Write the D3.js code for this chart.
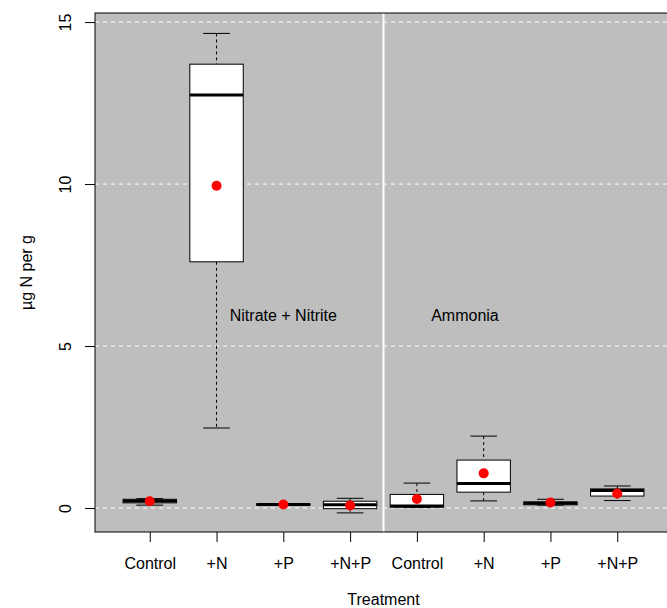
<!DOCTYPE html>
<html>
<head>
<meta charset="utf-8">
<script src="https://cdn.jsdelivr.net/npm/d3@7"></script>
<style>
  body { margin: 0; background: #fff; }
  text { font-family: "Liberation Sans", Arial, sans-serif; }
</style>
</head>
<body>
<svg></svg>
<script>
// boxplot summaries (positions 1..8)
const categories = ['Control', '+N', '+P', '+N+P', 'Control', '+N', '+P', '+N+P'];
const whiskerLow = [0.09, 2.47, 0.08, -0.15, 0.02, 0.22, 0.09, 0.23];
const q1 = [0.16, 7.6, 0.09, -0.02, 0.03, 0.49, 0.10, 0.37];
const medians = [0.22, 12.75, 0.11, 0.10, 0.06, 0.76, 0.15, 0.54];
const q3 = [0.27, 13.7, 0.13, 0.21, 0.42, 1.48, 0.19, 0.59];
const whiskerHigh = [0.29, 14.65, 0.14, 0.30, 0.77, 2.22, 0.27, 0.68];
const means = [0.21, 9.95, 0.11, 0.08, 0.28, 1.07, 0.17, 0.45];
const yTicks = [0, 5, 10, 15];
const groupLabels = [
  {label: 'Nitrate + Nitrite', x: 3.0, y: 6},
  {label: 'Ammonia', x: 5.72, y: 6},
];

const WIDTH = 667;
const HEIGHT = 608;
const FONT = 16;

const svg = d3.select('svg')
    .attr('width', WIDTH)
    .attr('height', HEIGHT);

const x = d3.scaleLinear().domain([0.18, 8.82]).range([95, 672]);
const y = d3.scaleLinear().domain([-0.74, 15.28]).range([532, 13]);

const boxes = categories.map((c, i) => ({
  pos: i + 1, lo: whiskerLow[i], q1: q1[i], med: medians[i],
  q3: q3[i], hi: whiskerHigh[i], mean: means[i],
}));

// grey plot region
svg.append('rect')
    .attr('x', x(0.18)).attr('y', y(15.28))
    .attr('width', x(8.82) - x(0.18)).attr('height', y(-0.74) - y(15.28))
    .attr('fill', '#bebebe');

// dashed white grid
svg.selectAll('line.grid')
    .data(yTicks)
  .enter().append('line')
    .attr('class', 'grid')
    .attr('x1', x(0.18)).attr('x2', x(8.82))
    .attr('y1', (d) => y(d)).attr('y2', (d) => y(d))
    .attr('stroke', '#fff')
    .attr('stroke-dasharray', '4,4');

// separator between the two groups
svg.append('line')
    .attr('x1', x(4.5)).attr('x2', x(4.5))
    .attr('y1', y(15.28)).attr('y2', y(-0.74))
    .attr('stroke', '#fff')
    .attr('stroke-width', 2);

const boxW = 0.8;
const g = svg.selectAll('g.box')
    .data(boxes)
  .enter().append('g')
    .attr('class', 'box');

// whiskers
g.append('line')
    .attr('x1', (d) => x(d.pos)).attr('x2', (d) => x(d.pos))
    .attr('y1', (d) => y(d.hi)).attr('y2', (d) => y(d.q3))
    .attr('stroke', '#000').attr('stroke-dasharray', '3,3');
g.append('line')
    .attr('x1', (d) => x(d.pos)).attr('x2', (d) => x(d.pos))
    .attr('y1', (d) => y(d.q1)).attr('y2', (d) => y(d.lo))
    .attr('stroke', '#000').attr('stroke-dasharray', '3,3');
// staples
['hi', 'lo'].forEach((k) => {
  g.append('line')
      .attr('x1', (d) => x(d.pos - boxW / 4)).attr('x2', (d) => x(d.pos + boxW / 4))
      .attr('y1', (d) => y(d[k])).attr('y2', (d) => y(d[k]))
      .attr('stroke', '#000');
});
// box
g.append('rect')
    .attr('x', (d) => x(d.pos - boxW / 2))
    .attr('width', (d) => x(d.pos + boxW / 2) - x(d.pos - boxW / 2))
    .attr('y', (d) => y(d.q3))
    .attr('height', (d) => y(d.q1) - y(d.q3))
    .attr('fill', '#fff')
    .attr('stroke', '#000');
// median
g.append('line')
    .attr('x1', (d) => x(d.pos - boxW / 2)).attr('x2', (d) => x(d.pos + boxW / 2))
    .attr('y1', (d) => y(d.med)).attr('y2', (d) => y(d.med))
    .attr('stroke', '#000').attr('stroke-width', 3);
// mean
g.append('circle')
    .attr('cx', (d) => x(d.pos)).attr('cy', (d) => y(d.mean))
    .attr('r', 5)
    .attr('fill', '#ff0000');

// group labels
svg.selectAll('text.group')
    .data(groupLabels)
  .enter().append('text')
    .attr('class', 'group')
    .attr('x', (d) => x(d.x)).attr('y', (d) => y(d.y) + 7)
    .attr('text-anchor', 'middle')
    .attr('font-size', FONT)
    .text((d) => d.label);

// axes
const xAxis = svg.append('g')
    .attr('transform', `translate(0, ${y(-0.74)})`)
    .call(d3.axisBottom(x).tickValues(d3.range(1, 9))
        .tickFormat((d) => categories[d - 1]).tickSize(10).tickPadding(16));
xAxis.select('.domain').remove();
xAxis.selectAll('text').attr('font-size', FONT).attr('font-family', null);
xAxis.selectAll('line').attr('stroke', '#000');

const yAxis = svg.append('g')
    .attr('transform', `translate(${x(0.18)}, 0)`)
    .call(d3.axisLeft(y).tickValues(yTicks).tickSize(10));
yAxis.select('.domain').remove();
yAxis.selectAll('line').attr('stroke', '#000');
yAxis.selectAll('text')
    .attr('font-size', FONT).attr('font-family', null)
    .attr('x', null).attr('dy', null)
    .attr('text-anchor', 'middle')
    .attr('transform', 'translate(-24, 0) rotate(-90)');

// frame
svg.append('rect')
    .attr('x', x(0.18)).attr('y', y(15.28))
    .attr('width', x(8.82) - x(0.18)).attr('height', y(-0.74) - y(15.28))
    .attr('fill', 'none')
    .attr('stroke', '#000');

// axis titles
svg.append('text')
    .attr('x', x(4.5)).attr('y', 605)
    .attr('text-anchor', 'middle')
    .attr('font-size', FONT)
    .text('Treatment');
svg.append('text')
    .attr('transform', `translate(32, ${y(7.27)}) rotate(-90)`)
    .attr('text-anchor', 'middle')
    .attr('font-size', FONT)
    .text('µg N per g');
</script>
</body>
</html>
